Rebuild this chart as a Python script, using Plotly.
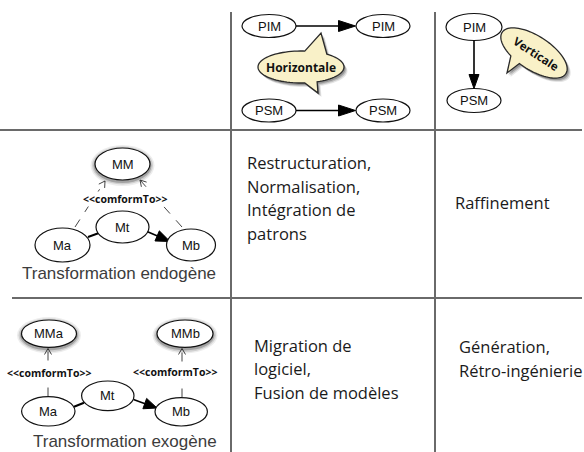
import numpy as np
import plotly.graph_objects as go

# ---------------- data (text content of the table) ----------------
col_headers = ["Horizontale", "Verticale"]
row_headers = ["Transformation endogène", "Transformation exogène"]
horizontal_nodes = ["PIM", "PIM", "PSM", "PSM"]
vertical_nodes = ["PIM", "PSM"]
endogen_nodes = ["MM", "Ma", "Mt", "Mb"]
exogen_nodes = ["MMa", "MMb", "Ma", "Mt", "Mb"]
conform_label = "&lt;&lt;comformTo&gt;&gt;"
endo_horizontal_text = ["Restructuration,", "Normalisation,", "Intégration de", "patrons"]
endo_vertical_text = ["Raffinement"]
exo_horizontal_text = ["Migration de", "logiciel,", "Fusion de modèles"]
exo_vertical_text = ["Génération,", "Rétro-ingénierie"]

# ---------------- layout geometry (pixels) ----------------
W, H = 584, 452
BODY_FONT = "Open Sans"
NODE_FONT = "Liberation Sans"
GRID = "#6a6a6a"

shapes = []
annotations = []


def line(x0, y0, x1, y1, color="black", width=1.5, dash="solid"):
    shapes.append(dict(type="line", xref="x", yref="y", x0=x0, y0=y0, x1=x1, y1=y1,
                       line=dict(color=color, width=width, dash=dash)))


def ellipse(cx, cy, rx, ry, fill="white", edge="#111", lw=1.2, shadow=False):
    if shadow:
        for pad, op in [(4.5, 0.07), (3.0, 0.12), (1.5, 0.22)]:
            shapes.append(dict(type="circle", xref="x", yref="y",
                               x0=cx - rx - pad, x1=cx + rx + pad,
                               y0=cy - ry - pad + 1.5, y1=cy + ry + pad + 1.5,
                               fillcolor=f"rgba(0,0,0,{op})", line=dict(width=0)))
    shapes.append(dict(type="circle", xref="x", yref="y", x0=cx - rx, x1=cx + rx,
                       y0=cy - ry, y1=cy + ry, fillcolor=fill,
                       line=dict(color=edge, width=lw)))


def label(x, y, text, size=13, font=NODE_FONT, color="#111", bold=False,
          xanchor="center", angle=0, bg=None):
    ann = dict(x=x, y=y, xref="x", yref="y",
               text=f"<b>{text}</b>" if bold else text,
               showarrow=False, xanchor=xanchor, yanchor="middle",
               textangle=angle,
               font=dict(family=font, size=size, color=color))
    if bg:
        ann.update(bgcolor=bg, borderpad=0)
    annotations.append(ann)


def arrow(x0, y0, x1, y1, head_len=13, head_w=5, color="black", width=1.5,
          dash="solid", open_head=False):
    dx, dy = x1 - x0, y1 - y0
    L = float(np.hypot(dx, dy))
    ux, uy = dx / L, dy / L
    nx, ny = -uy, ux
    bx, by = x1 - ux * head_len, y1 - uy * head_len
    if open_head:
        line(x0, y0, x1, y1, color, width, dash)
        path = (f"M {bx + nx * head_w},{by + ny * head_w} L {x1},{y1} "
                f"L {bx - nx * head_w},{by - ny * head_w}")
        shapes.append(dict(type="path", xref="x", yref="y", path=path,
                           line=dict(color=color, width=width)))
    else:
        line(x0, y0, bx + ux, by + uy, color, width, dash)
        path = (f"M {x1},{y1} L {bx + nx * head_w},{by + ny * head_w} "
                f"L {bx - nx * head_w},{by - ny * head_w} Z")
        shapes.append(dict(type="path", xref="x", yref="y", path=path,
                           fillcolor=color, line=dict(color=color, width=1)))


def bubble(cx, cy, a, b, theta_deg, tails, fill="#f9f1c8", edge="#2a2a2a"):
    th = np.deg2rad(theta_deg)

    def pt(t):
        t = np.deg2rad(t)
        ex, ey = a * np.cos(t), b * np.sin(t)
        return (cx + ex * np.cos(th) - ey * np.sin(th),
                cy + ex * np.sin(th) + ey * np.cos(th))

    pts = []
    start = 0
    for t1, t2, tip in sorted(tails):
        for t in np.arange(start, t1, 4):
            pts.append(pt(t))
        pts.append(pt(t1))
        pts.append(tip)
        pts.append(pt(t2))
        start = t2
    for t in np.arange(start, 360, 4):
        pts.append(pt(t))

    def to_path(p, ox=0.0, oy=0.0):
        return "M " + " L ".join(f"{x + ox:.2f},{y + oy:.2f}" for x, y in p) + " Z"

    for (ox, oy, op) in [(3.5, 4, 0.10), (2.5, 3, 0.16), (1.5, 2, 0.22)]:
        shapes.append(dict(type="path", xref="x", yref="y", path=to_path(pts, ox, oy),
                           fillcolor=f"rgba(0,0,0,{op})", line=dict(width=0)))
    shapes.append(dict(type="path", xref="x", yref="y", path=to_path(pts),
                       fillcolor=fill, line=dict(color=edge, width=1.3)))


# ---------------- grid of the table ----------------
line(231, 12, 231, H, GRID, 2)
line(435, 12, 435, H, GRID, 2)
line(0, 130, 582, 130, GRID, 2)
line(12, 298, 582, 298, GRID, 2)

# ---------------- top-middle: horizontal transformation ----------------
h_pos = [(269, 26), (383, 26), (269, 110.5), (383, 110.5)]
for (cx, cy), name in zip(h_pos, horizontal_nodes):
    ellipse(cx, cy, 27, 11.5)
    label(cx, cy, name, size=13)
arrow(296, 26, 355.5, 26, head_len=17, head_w=5.5, width=1.6)
arrow(296, 110.5, 355.5, 110.5, head_len=17, head_w=5.5, width=1.6)
bubble(301, 67, 43, 16, 0, [(68, 85, (318, 93)), (275, 307, (321, 33))])
label(301, 67, col_headers[0], size=12, font=BODY_FONT, color="#111", bold=True)

# ---------------- top-right: vertical transformation ----------------
v_pos = [(474, 27, 28, 13.5), (474, 100.5, 27, 12)]
for (cx, cy, rx, ry), name in zip(v_pos, vertical_nodes):
    ellipse(cx, cy, rx, ry)
    label(cx, cy, name, size=13)
arrow(474, 40.5, 474, 88.5, head_len=14, head_w=5, width=1.6)
bubble(534, 53, 38, 17, 33, [(100, 118, (507, 73))])
label(536, 53, col_headers[1], size=11.5, font=BODY_FONT, color="#111", bold=True, angle=33)

# ---------------- middle-left: endogenous ----------------
endo_pos = [(122.5, 164, 27.5, 16), (62.5, 245, 27.5, 17), (122.5, 227, 26.5, 16),
            (191, 245, 24.5, 16)]
arrow(75, 227, 105, 181, head_len=6, head_w=3.5, color="#444", width=1, dash="dash",
      open_head=True)
arrow(182, 227, 140, 180, head_len=6, head_w=3.5, color="#444", width=1, dash="dash",
      open_head=True)
line(88, 237, 99, 233, "black", 2)
arrow(147, 231.5, 170, 241.5, head_len=14, head_w=5.5, width=1.6)
for i, ((cx, cy, rx, ry), name) in enumerate(zip(endo_pos, endogen_nodes)):
    ellipse(cx, cy, rx, ry, shadow=(i == 0))
    label(cx, cy, name, size=13)
label(125, 198.5, conform_label, size=10.5, font=BODY_FONT, color="#111", bold=True,
      bg="white")
label(119, 273, row_headers[0], size=17, font=NODE_FONT, color="#3c3c3c")

# ---------------- bottom-left: exogenous ----------------
exo_pos = [(49, 333.7, 27.5, 13.7), (185, 333.7, 28, 13.7), (48.3, 411.3, 26.7, 14.7),
           (107.8, 395.8, 26.2, 14.8), (181.2, 411.8, 26.2, 14.2)]
arrow(48, 396.5, 48, 348.5, head_len=6, head_w=3.5, color="#444", width=1, dash="dash",
      open_head=True)
arrow(182, 397.5, 182, 348.5, head_len=6, head_w=3.5, color="#444", width=1, dash="dash",
      open_head=True)
line(74, 406.7, 84, 402.7, "black", 2)
arrow(133.5, 399.5, 157, 408, head_len=13, head_w=5.5, width=1.6)
for i, ((cx, cy, rx, ry), name) in enumerate(zip(exo_pos, exogen_nodes)):
    ellipse(cx, cy, rx, ry, shadow=(i < 2))
    label(cx, cy, name, size=13)
label(48.5, 373.3, conform_label, size=10.5, font=BODY_FONT, color="#111", bold=True,
      bg="white")
label(175, 371.7, conform_label, size=10.5, font=BODY_FONT, color="#111", bold=True,
      bg="white")
label(125, 441, row_headers[1], size=17, font=NODE_FONT, color="#3c3c3c")

# ---------------- text cells ----------------
def text_block(x, y0, lines, step=23.5):
    for k, t in enumerate(lines):
        label(x, y0 + k * step, t, size=16.5, font=BODY_FONT, color="#1a1a1a",
              xanchor="left")

text_block(245, 162.5, endo_horizontal_text)
text_block(453, 202, endo_vertical_text)
text_block(252, 345, exo_horizontal_text)
text_block(457, 346.5, exo_vertical_text)

fig = go.Figure(go.Scatter(x=[], y=[], showlegend=False))
fig.update_layout(
    width=W, height=H, margin=dict(l=0, r=0, t=0, b=0),
    paper_bgcolor="white", plot_bgcolor="white",
    xaxis=dict(range=[0, W], visible=False, showgrid=False, zeroline=False),
    yaxis=dict(range=[H, 0], visible=False, showgrid=False, zeroline=False),
    shapes=shapes, annotations=annotations, showlegend=False,
)
fig.write_html(
    "out.html",
    config={"displayModeBar": False},
    post_script="document.body.style.margin='0px';document.body.style.overflow='hidden';",
)
